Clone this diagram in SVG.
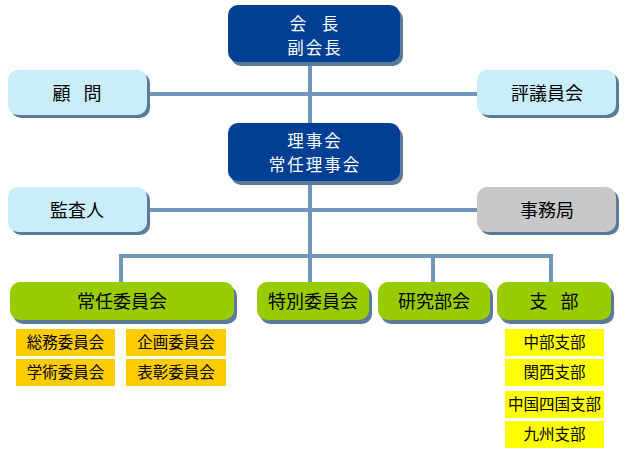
<svg xmlns="http://www.w3.org/2000/svg" width="630" height="467" viewBox="0 0 630 467">
<style>
  text { font-family: "Noto Sans CJK JP", "Noto Sans", sans-serif; text-anchor: middle; }
  .sh { fill: #5b7a98; }
  .navy { fill: #003f93; }
  .lblue { fill: #c9edf9; }
  .gray { fill: #c8c8c8; }
  .green { fill: #99cc00; }
  .gold { fill: #ffcc00; }
  .yel { fill: #ffff00; }
  .wt { fill: #ffffff; font-size: 16.5px; letter-spacing: 2px; }
  .bt { fill: #000000; font-size: 18px; }
  .st { fill: #000000; font-size: 15.5px; }
  .conn line { stroke: #7096bc; stroke-width: 4; }
</style>

<g id="connectors" class="conn">
  <line x1="310" y1="60" x2="310" y2="284"/>
  <line x1="145" y1="94" x2="479" y2="94"/>
  <line x1="145" y1="210" x2="479" y2="210"/>
  <line x1="119" y1="256" x2="553" y2="256"/>
  <line x1="121" y1="254" x2="121" y2="284"/>
  <line x1="433" y1="254" x2="433" y2="284"/>
  <line x1="551" y1="254" x2="551" y2="284"/>
</g>

<g id="kaicho">
  <rect class="sh" x="231" y="9" width="172" height="57" rx="10"/>
  <rect class="navy" x="228" y="5" width="172" height="57" rx="10"/>
  <text class="wt" x="315" y="30" style="word-spacing:8px">会 長</text>
  <text class="wt" x="315" y="54">副会長</text>
</g>

<g id="komon">
  <rect class="sh" x="11" y="73" width="139" height="45" rx="10"/>
  <rect class="lblue" x="8" y="70" width="139" height="45" rx="10"/>
  <text class="bt" x="77" y="100" style="word-spacing:9px">顧 問</text>
</g>

<g id="hyogiinkai">
  <rect class="sh" x="480" y="73" width="139" height="45" rx="10"/>
  <rect class="lblue" x="477" y="70" width="139" height="45" rx="10"/>
  <text class="bt" x="547" y="100">評議員会</text>
</g>

<g id="rijikai">
  <rect class="sh" x="231" y="127" width="172" height="58" rx="10"/>
  <rect class="navy" x="228" y="123" width="172" height="58" rx="10"/>
  <text class="wt" x="315" y="147">理事会</text>
  <text class="wt" x="315" y="171">常任理事会</text>
</g>

<g id="kansanin">
  <rect class="sh" x="11" y="190" width="139" height="45" rx="10"/>
  <rect class="lblue" x="8" y="187" width="139" height="45" rx="10"/>
  <text class="bt" x="77" y="217">監査人</text>
</g>

<g id="jimukyoku">
  <rect class="sh" x="480" y="190" width="139" height="45" rx="10"/>
  <rect class="gray" x="477" y="187" width="139" height="45" rx="10"/>
  <text class="bt" x="547" y="217">事務局</text>
</g>

<g id="joninIinkai">
  <rect class="sh" x="13" y="286" width="224" height="38" rx="10"/>
  <rect class="green" x="10" y="282" width="224" height="38" rx="10"/>
  <text class="bt" x="122" y="308">常任委員会</text>
</g>

<g id="tokubetsuIinkai">
  <rect class="sh" x="260" y="286" width="112" height="38" rx="10"/>
  <rect class="green" x="257" y="282" width="112" height="38" rx="10"/>
  <text class="bt" x="313" y="308">特別委員会</text>
</g>

<g id="kenkyuBukai">
  <rect class="sh" x="381" y="286" width="112" height="38" rx="10"/>
  <rect class="green" x="378" y="282" width="112" height="38" rx="10"/>
  <text class="bt" x="434" y="308">研究部会</text>
</g>

<g id="shibu">
  <rect class="sh" x="500" y="286" width="114" height="38" rx="10"/>
  <rect class="green" x="497" y="282" width="114" height="38" rx="10"/>
  <text class="bt" x="554" y="308" style="word-spacing:9px">支 部</text>
</g>

<g id="somuIinkai">
  <rect class="gold" x="16" y="329" width="99" height="27"/>
  <text class="st" x="65.5" y="348">総務委員会</text>
</g>
<g id="kikakuIinkai">
  <rect class="gold" x="126" y="329" width="100" height="27"/>
  <text class="st" x="176" y="348">企画委員会</text>
</g>
<g id="gakujutsuIinkai">
  <rect class="gold" x="16" y="359" width="99" height="27"/>
  <text class="st" x="65.5" y="378">学術委員会</text>
</g>
<g id="hyoshoIinkai">
  <rect class="gold" x="126" y="359" width="100" height="27"/>
  <text class="st" x="176" y="378">表彰委員会</text>
</g>

<g id="chubuShibu">
  <rect class="yel" x="505" y="329" width="99" height="27"/>
  <text class="st" x="554.5" y="348">中部支部</text>
</g>
<g id="kansaiShibu">
  <rect class="yel" x="505" y="359" width="99" height="27"/>
  <text class="st" x="554.5" y="378">関西支部</text>
</g>
<g id="chugokuShikokuShibu">
  <rect class="yel" x="505" y="391" width="99" height="27"/>
  <text class="st" x="554.5" y="410">中国四国支部</text>
</g>
<g id="kyushuShibu">
  <rect class="yel" x="505" y="421" width="99" height="27"/>
  <text class="st" x="554.5" y="440">九州支部</text>
</g>
</svg>
